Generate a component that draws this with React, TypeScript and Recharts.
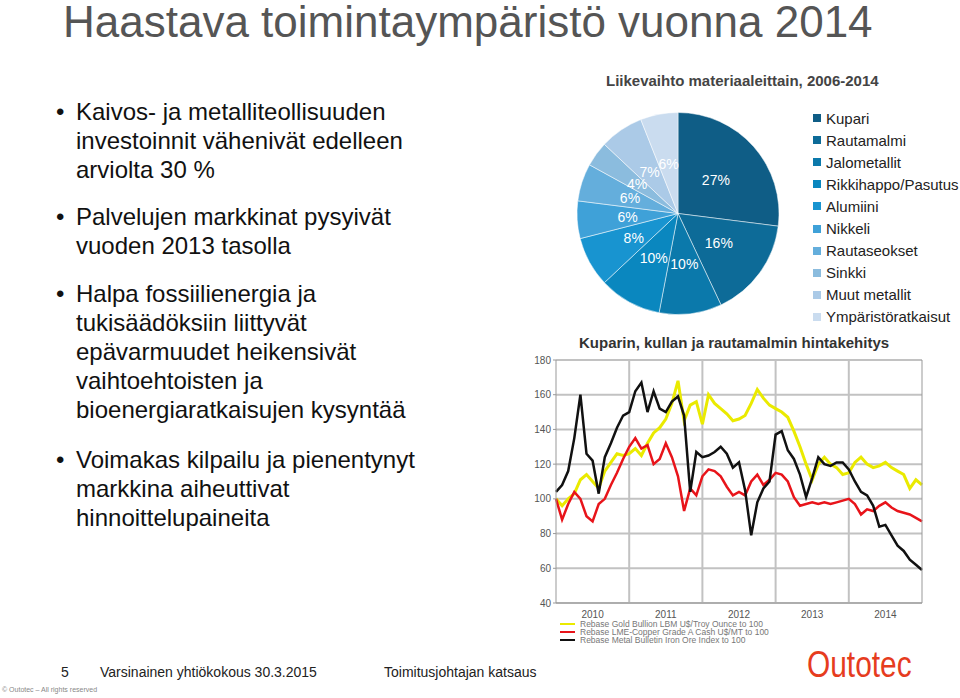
import React from "react";
import {
  PieChart,
  Pie,
  Cell,
  LineChart,
  Line,
  XAxis,
  YAxis,
  CartesianGrid,
  ReferenceLine,
} from "recharts";

// pie: revenue by material 2006-2014 (%)
const materials = [
  "Kupari",
  "Rautamalmi",
  "Jalometallit",
  "Rikkihappo/Pasutus",
  "Alumiini",
  "Nikkeli",
  "Rautaseokset",
  "Sinkki",
  "Muut metallit",
  "Ympäristöratkaisut",
];
const shares = [27, 16, 10, 10, 8, 6, 6, 4, 7, 6];
const pieColors = [
  "#0f5d86",
  "#0d6b98",
  "#0b79ab",
  "#0a87bf",
  "#1894d0",
  "#3fa1d8",
  "#64aedc",
  "#8bbcde",
  "#abcae7",
  "#cadcef",
];

// line chart: monthly index values Jan 2010 .. Dec 2014 (rebased to 100)
const yearLabels = ["2010", "2011", "2012", "2013", "2014"];
const gold = [
  100, 96, 100, 103, 111, 114, 110, 106, 116, 121, 126, 125,
  126, 129, 125, 132, 138, 141, 146, 155, 168, 145, 154, 156,
  143, 160, 155, 152, 149, 145, 146, 148, 155, 163, 158, 154,
  152, 150, 147, 139, 130, 120, 111, 120, 124, 120, 118, 114,
  115, 121, 124, 120, 118, 119, 121, 118, 116, 114, 106, 111, 108,
];
const copper = [
  100, 88, 97, 104, 100, 90, 87, 97, 100, 108, 115, 123,
  130, 135, 129, 131, 120, 123, 132, 124, 113, 93, 106, 102,
  113, 117, 116, 113, 107, 102, 104, 102, 110, 114, 108, 111,
  115, 114, 110, 101, 96, 97, 98, 97, 98, 97, 98, 99,
  100, 97, 91, 94, 93, 96, 98, 95, 93, 92, 91, 89, 87,
];
const ironOre = [
  104, 108, 116, 135, 160, 126, 122, 103, 124, 132, 141, 148,
  150, 162, 167, 150, 162, 152, 150, 156, 159, 148, 104, 127,
  124, 125, 127, 130, 126, 118, 121, 105, 79, 98, 106, 110,
  137, 139, 128, 123, 114, 101, 112, 124, 120, 119, 121, 121,
  117, 110, 104, 102, 96, 84, 85, 79, 73, 70, 65, 62, 59,
];
const lineLegend = [
  "Rebase Gold Bullion LBM U$/Troy Ounce to 100",
  "Rebase LME-Copper Grade A Cash U$/MT to 100",
  "Rebase Metal Bulletin Iron Ore Index to 100",
];
const lineColors = ["#eaea00", "#e8141a", "#111111"];

const bullets = [
  ["Kaivos- ja metalliteollisuuden", "investoinnit vähenivät edelleen", "arviolta 30 %"],
  ["Palvelujen markkinat pysyivät", "vuoden 2013 tasolla"],
  [
    "Halpa fossiilienergia ja",
    "tukisäädöksiin liittyvät",
    "epävarmuudet heikensivät",
    "vaihtoehtoisten ja",
    "bioenergiaratkaisujen kysyntää",
  ],
  ["Voimakas kilpailu ja pienentynyt", "markkina aiheuttivat", "hinnoittelupaineita"],
];
const bulletTops = [97, 202, 279, 445];

const pieData = materials.map((name, i) => ({ name, value: shares[i] }));
const lineData = gold.map((g, i) => ({ m: i, gold: g, copper: copper[i], iron: ironOre[i] }));

const FONT = '"Liberation Sans", Arial, Helvetica, sans-serif';
const RAD = Math.PI / 180;

function PieLabel(props: any) {
  const { cx, cy, midAngle, outerRadius, value } = props;
  const r = outerRadius * 0.5;
  const x = cx + r * Math.cos(-midAngle * RAD);
  const y = cy + r * Math.sin(-midAngle * RAD);
  return (
    <text x={x} y={y} fill="#fff" fontSize={14} textAnchor="middle" dominantBaseline="central" fontFamily={FONT}>
      {value}%
    </text>
  );
}

export default function App() {
  return (
    <div
      style={{
        position: "absolute",
        left: 0,
        top: 0,
        width: 960,
        height: 698,
        overflow: "hidden",
        background: "#fff",
        fontFamily: FONT,
      }}
    >
      <div style={{ position: "absolute", left: 63, top: 0, fontSize: 44, lineHeight: 1, color: "#555", whiteSpace: "nowrap" }}>
        Haastava toimintaympäristö vuonna 2014
      </div>

      {bullets.map((lines, gi) => (
        <div key={gi} style={{ position: "absolute", left: 56, top: bulletTops[gi], fontSize: 24, lineHeight: "29px", color: "#111" }}>
          <span style={{ position: "absolute", left: 0, top: 0 }}>•</span>
          {lines.map((t, li) => (
            <div key={li} style={{ paddingLeft: 20, whiteSpace: "nowrap" }}>{t}</div>
          ))}
        </div>
      ))}

      {/* pie */}
      <div style={{ position: "absolute", left: 558, top: 93 }}>
        <PieChart width={230} height={230}>
          <Pie
            data={pieData}
            dataKey="value"
            nameKey="name"
            cx={115}
            cy={115.5}
            outerRadius={101}
            startAngle={90}
            endAngle={-270}
            stroke="#fff"
            strokeWidth={0.5}
            label={PieLabel}
            labelLine={false}
            isAnimationActive={false}
          >
            {pieData.map((d, i) => (
              <Cell key={d.name} fill={pieColors[i]} />
            ))}
          </Pie>
        </PieChart>
      </div>
      <div style={{ position: "absolute", left: 606, top: 72, fontSize: 15, fontWeight: "bold", color: "#444", whiteSpace: "nowrap" }}>
        Liikevaihto materiaaleittain, 2006-2014
      </div>
      <div style={{ position: "absolute", left: 813, top: 107 }}>
        {materials.map((name, i) => (
          <div key={name} style={{ height: 22.1, display: "flex", alignItems: "center", fontSize: 15, color: "#222", whiteSpace: "nowrap" }}>
            <span style={{ width: 8, height: 8, background: pieColors[i], marginRight: 5, display: "inline-block" }} />
            {name}
          </div>
        ))}
      </div>

      {/* price lines */}
      <div style={{ position: "absolute", left: 520, top: 350 }}>
        <LineChart width={440} height={300} data={lineData} margin={{ top: 10, right: 8, left: 6, bottom: 27 }}>
          <CartesianGrid vertical={false} stroke="#c2c2c2" strokeWidth={2} />
          <XAxis
            dataKey="m"
            type="number"
            domain={[0, 60]}
            ticks={[6, 18, 30, 42, 54]}
            tickFormatter={(v: number) => yearLabels[Math.round((v - 6) / 12)]}
            tickLine={false}
            axisLine={{ stroke: "#999" }}
            tick={{ fontSize: 10, fill: "#555" }}
            height={20}
          />
          <YAxis
            domain={[40, 180]}
            ticks={[40, 60, 80, 100, 120, 140, 160, 180]}
            width={30}
            tickSize={3}
            tick={{ fontSize: 10, fill: "#555" }}
            axisLine={{ stroke: "#999" }}
            tickLine={{ stroke: "#999" }}
          />
          <YAxis
            yAxisId="r"
            orientation="right"
            domain={[40, 180]}
            ticks={[40, 60, 80, 100, 120, 140, 160, 180]}
            width={30}
            tickSize={3}
            tick={{ fontSize: 10, fill: "#555" }}
            axisLine={{ stroke: "#999" }}
            tickLine={{ stroke: "#999" }}
          />
          {[12, 24, 36, 48].map((x) => (
            <ReferenceLine key={x} x={x} stroke="#c2c2c2" strokeWidth={2} />
          ))}
          <Line type="linear" dataKey="gold" stroke={lineColors[0]} strokeWidth={3} dot={false} isAnimationActive={false} />
          <Line type="linear" dataKey="copper" stroke={lineColors[1]} strokeWidth={2.5} dot={false} isAnimationActive={false} />
          <Line type="linear" dataKey="iron" stroke={lineColors[2]} strokeWidth={2.5} dot={false} isAnimationActive={false} />
        </LineChart>
      </div>
      <div style={{ position: "absolute", left: 579, top: 334, fontSize: 15, fontWeight: "bold", color: "#333", whiteSpace: "nowrap" }}>
        Kuparin, kullan ja rautamalmin hintakehitys
      </div>
      <div style={{ position: "absolute", left: 560, top: 620 }}>
        {lineLegend.map((t, i) => (
          <div key={t} style={{ height: 8.2, display: "flex", alignItems: "center", fontSize: 8.5, color: "#777", whiteSpace: "nowrap" }}>
            <span style={{ width: 15, height: 2, background: lineColors[i], marginRight: 5, display: "inline-block" }} />
            {t}
          </div>
        ))}
      </div>

      {/* footer */}
      <div style={{ position: "absolute", left: 61, top: 664, fontSize: 14, color: "#222" }}>5</div>
      <div style={{ position: "absolute", left: 100, top: 664, fontSize: 14, color: "#222", whiteSpace: "nowrap" }}>
        Varsinainen yhtiökokous 30.3.2015
      </div>
      <div style={{ position: "absolute", left: 384, top: 664, fontSize: 14, color: "#222", whiteSpace: "nowrap" }}>
        Toimitusjohtajan katsaus
      </div>
      <div style={{ position: "absolute", left: 2, top: 686, fontSize: 7, color: "#888", whiteSpace: "nowrap" }}>
        © Outotec – All rights reserved
      </div>
      <div
        style={{
          position: "absolute",
          left: 807,
          top: 647,
          fontSize: 36,
          lineHeight: 1,
          color: "#e63c1e",
          whiteSpace: "nowrap",
          transform: "scaleX(0.83)",
          transformOrigin: "left top",
        }}
      >
        Outotec
      </div>
    </div>
  );
}
